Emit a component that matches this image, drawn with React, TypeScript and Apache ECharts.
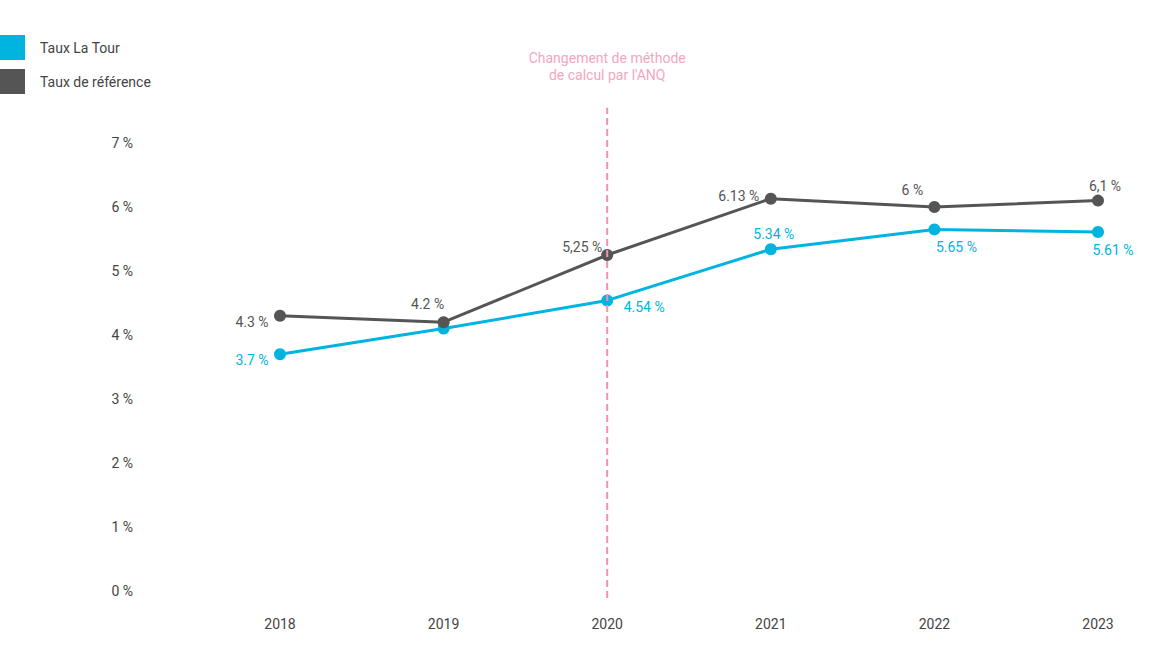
import React, { useEffect, useRef } from "react";
import * as echarts from "echarts";

const years = ["2018", "2019", "2020", "2021", "2022", "2023"];
const tourValues = [3.7, 4.1, 4.54, 5.34, 5.65, 5.61];
const tourLabels = ["3.7 %", "", "4.54 %", "5.34 %", "5.65 %", "5.61 %"];
const refValues = [4.3, 4.2, 5.25, 6.13, 6.0, 6.1];
const refLabels = ["4.3 %", "4.2 %", "5,25 %", "6.13 %", "6 %", "6,1 %"];
const tourLabelOffsets: number[][] = [[-28, 6], [0, 0], [37, 7], [3, -15], [22, 18], [15, 18]];
const refLabelOffsets: number[][] = [[-28, 6], [-16, -18], [-25, -8], [-32, -3], [-22, -17], [7, -15]];
const yTicks = [0, 1, 2, 3, 4, 5, 6, 7];
const noteLines = ["Changement de méthode", "de calcul par l'ANQ"];
const noteYear = "2020";
// vertical extent of the dashed marker, in axis units
const noteSpan = [-0.11, 7.55];

const CYAN = "#00b4e0";
const DARK = "#555555";
const PINK = "#f590b0";
const PINK_TEXT = "#f4a6be";
const FONT = "Roboto, 'Noto Sans', sans-serif";

export default function App() {
  const ref = useRef<HTMLDivElement>(null);

  useEffect(() => {
    if (!ref.current) return;
    const chart = echarts.init(ref.current, null, { renderer: "svg" });

    const mkData = (vals: number[], labels: string[], offs: number[][], color: string) =>
      vals.map((v, i) => ({
        value: v,
        label: {
          show: labels[i] !== "",
          formatter: labels[i],
          position: "inside",
          offset: offs[i],
          color,
          fontSize: 14,
          fontWeight: "normal",
          fontFamily: FONT,
        },
      }));

    chart.setOption({
      animation: false,
      textStyle: { fontFamily: FONT },
      grid: { left: 280, right: 76, top: 143, bottom: 72 },
      legend: {
        orient: "vertical",
        left: 0,
        top: 35,
        padding: 0,
        itemWidth: 25,
        itemHeight: 25,
        itemGap: 9,
        icon: "rect",
        textStyle: { color: "#444", fontSize: 14, fontFamily: FONT, padding: [0, 0, 0, 10] },
        data: ["Taux La Tour", "Taux de référence"],
      },
      xAxis: {
        type: "category",
        data: years,
        boundaryGap: false,
        axisLine: { show: false },
        axisTick: { show: false },
        splitLine: { show: false },
        axisLabel: { color: "#444", fontSize: 14, margin: 26, fontFamily: FONT },
      },
      yAxis: {
        type: "value",
        min: yTicks[0],
        max: yTicks[yTicks.length - 1],
        interval: 1,
        axisLine: { show: false },
        axisTick: { show: false },
        splitLine: { show: false },
        axisLabel: {
          color: "#444",
          fontSize: 14,
          margin: 147,
          fontFamily: FONT,
          formatter: (v: number) => `${v} %`,
        },
      },
      series: [
        {
          name: "Taux La Tour",
          type: "line",
          color: CYAN,
          data: mkData(tourValues, tourLabels, tourLabelOffsets, CYAN),
          symbol: "circle",
          symbolSize: 12,
          lineStyle: { width: 3, color: CYAN },
          itemStyle: { color: CYAN },
          z: 3,
        },
        {
          name: "Taux de référence",
          type: "line",
          color: DARK,
          data: mkData(refValues, refLabels, refLabelOffsets, DARK),
          symbol: "circle",
          symbolSize: 12,
          lineStyle: { width: 3, color: DARK },
          itemStyle: { color: DARK },
          z: 3,
        },
      ],
    });

    // Dashed marker for the change of calculation method, placed through the axes
    const bottom = chart.convertToPixel({ xAxisIndex: 0, yAxisIndex: 0 }, [noteYear, noteSpan[0]]) as number[];
    const top = chart.convertToPixel({ xAxisIndex: 0, yAxisIndex: 0 }, [noteYear, noteSpan[1]]) as number[];
    chart.setOption({
      graphic: [
        {
          type: "line",
          z: 10,
          silent: true,
          shape: { x1: bottom[0], y1: bottom[1], x2: top[0], y2: top[1] },
          style: { stroke: PINK, lineWidth: 2, lineDash: [7, 4] },
        },
        {
          type: "text",
          z: 10,
          silent: true,
          x: top[0],
          y: top[1] - 24,
          style: {
            text: noteLines.join("\n"),
            fill: PINK_TEXT,
            font: `14px ${FONT}`,
            lineHeight: 17,
            align: "center",
            verticalAlign: "bottom",
          },
        },
      ],
    });

    return () => chart.dispose();
  }, []);

  return (
    <div
      ref={ref}
      style={{ position: "absolute", left: 0, top: 0, width: 1174, height: 663 }}
    />
  );
}
